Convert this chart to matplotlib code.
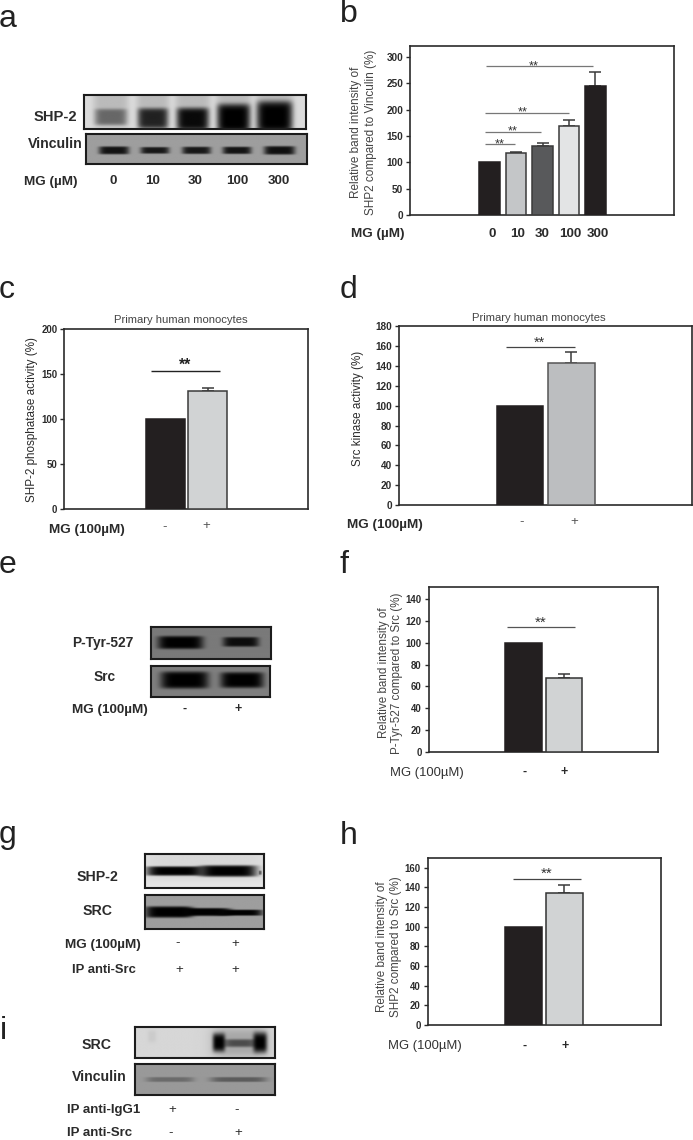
import numpy as np
import matplotlib
matplotlib.use("Agg")
import matplotlib.pyplot as plt

plt.rcParams['font.family'] = ['Liberation Sans', 'DejaVu Sans']

W, H = 693, 1140
DARK = '#231f20'
TXT = '#2b2b2b'
GRY = '#58595b'

# ---- chart values ----
b_cats = ['0', '10', '30', '100', '300']
b_vals = [100, 117, 131, 169, 244]
b_errs = [0, 3.5, 5, 11, 27]
b_cols = [DARK, '#c4c6c8', '#58595b', '#e3e4e5', DARK]

c_vals = [100, 131]
c_errs = [0, 3.3]
d_vals = [100, 143]
d_errs = [0, 11.5]
f_vals = [100, 67.5]
f_errs = [0, 3.5]
h_vals = [100, 134]
h_errs = [0, 8.5]
signs = ['-', '+']

fig = plt.figure(figsize=(W / 100, H / 100), dpi=100, facecolor='white')


def px_axes(l, t, r, b):
    return fig.add_axes([l / W, 1 - b / H, (r - l) / W, (b - t) / H])


def T(x, y, s, size=9.7, weight='bold', ha='center', va='center', color=TXT, rot=0):
    fig.text(x / W, 1 - y / H, s, fontsize=size, fontweight=weight, ha=ha, va=va,
             color=color, rotation=rot, rotation_mode='anchor' if rot else 'default')


def stars(x, y, size=9, weight='normal', color='#333333'):
    T(x, y + size / 0.72 * 0.56, '**', size=size, weight=weight, va='baseline', color=color)


def bar_panel(box, ylim, yticks, vals, errs, cols, c0, step, width, edge, tick_size=6.9):
    l, t, r, b = box
    ax = px_axes(l, t, r, b)
    ax.set_xlim((l - c0) / step, (r - c0) / step)
    ax.set_ylim(*ylim)
    xs = np.arange(len(vals))
    for x, v, e, col in zip(xs, vals, errs, cols):
        ax.bar(x, v, width=width / step, color=col, edgecolor=DARK if col == DARK else edge,
               linewidth=1.1, zorder=3)
        if e:
            ax.errorbar(x, v, yerr=[[0], [e]], color='#3a3a3a', elinewidth=1.1, capsize=4,
                        capthick=1.1, zorder=2)
    ax.set_xticks([])
    ax.set_yticks(yticks)
    ax.tick_params(axis='y', direction='out', length=3, width=1, pad=2, labelsize=tick_size,
                   colors=TXT)
    for lab in ax.get_yticklabels():
        lab.set_fontweight('bold')
    for s in ax.spines.values():
        s.set_linewidth(1.2)
        s.set_color('#2a2a2a')
    ax._c0, ax._step = c0, step
    return ax


def sig(ax, x0, x1, y, color='#444444', lw=0.9):
    ax.plot([(x0 - ax._c0) / ax._step, (x1 - ax._c0) / ax._step], [y, y], color=color, lw=lw,
            zorder=4, solid_capstyle='butt')


def blot(box, bg, bands, power=6):
    l, t, r, b = box
    ax = px_axes(l, t, r, b)
    yy, xx = np.mgrid[0:1:80j, 0:1:300j]
    img = np.full_like(xx, bg, dtype=float)
    for cx, hw, cy, hh, s in bands:
        img *= 1 - s * np.exp(-np.abs((xx - cx) / hw) ** power - np.abs((yy - cy) / hh) ** power)
    ax.imshow(img, cmap='gray', vmin=0, vmax=1, extent=(0, 1, 1, 0), aspect='auto',
              interpolation='bilinear')
    ax.set_xticks([])
    ax.set_yticks([])
    for s in ax.spines.values():
        s.set_linewidth(1.5)
        s.set_color('#1c1c1c')


# ---- panel letters ----
for x, y, s in [(-1, 27, 'a'), (340, 22, 'b'), (-1, 298, 'c'), (340, 298, 'd'), (-1, 573, 'e'),
                (340, 573, 'f'), (-1, 843, 'g'), (340, 844, 'h'), (0, 1039, 'i')]:
    T(x, y, s, size=23, weight='normal', ha='left', va='baseline', color='#222222')

# ---- a ----
blot((84, 94.7, 306, 129), 0.86, [
    (.12, .08, .30, .7, .15), (.31, .075, .30, .7, .15), (.49, .08, .30, .7, .15),
    (.675, .08, .30, .7, .15), (.86, .085, .30, .7, .15),
    (.12, .072, .66, .24, .45), (.31, .068, .70, .30, .82), (.49, .072, .72, .33, .95),
    (.675, .074, .70, .42, 1.0), (.86, .08, .66, .46, 1.0)])
blot((85.7, 134, 307, 164.3), 0.62, [
    (.125, .068, .56, .13, .88), (.31, .065, .56, .11, .85), (.498, .065, .56, .12, .85),
    (.681, .065, .56, .12, .88), (.873, .07, .56, .14, .9)])
T(77, 116.7, 'SHP-2', size=10.6, ha='right')
T(83, 144, 'Vinculin', size=10.2, ha='right')
T(77, 181.5, 'MG (µM)', ha='right')
for x, s in zip([112.7, 152.3, 194.7, 237.7, 279.3], b_cats):
    T(x, 181, s)

# ---- b ----
ax = bar_panel((410, 46, 674, 215), (0, 320.9), [0, 50, 100, 150, 200, 250, 300],
               b_vals, b_errs, b_cols, 489.7, 26.4, 20.5, '#3a3a3a', tick_size=7.2)
sig(ax, 486.3, 593.3, 282, color='#777777')
sig(ax, 485.3, 569, 193, color='#777777')
sig(ax, 485.3, 541, 157.6, color='#777777')
sig(ax, 485.3, 515, 135, color='#777777')
for x, y in [(534, 62), (522.3, 108.7), (512.7, 127.7), (500, 140.3)]:
    stars(x, y, size=9.3)
T(356, 132, 'Relative band intensity of', size=8.5, weight='normal', rot=90, color='#444444')
T(370.7, 132, 'SHP2 compared to Vinculin (%)', size=8.5, weight='normal', rot=90, color='#444444')
T(351, 234, 'MG (µM)', ha='left')
for x, s in zip([491.7, 517.7, 541.7, 570, 597.7], b_cats):
    T(x, 234, s)

# ---- c ----
ax = bar_panel((64.3, 329.3, 308.3, 509), (0, 200), [0, 50, 100, 150, 200],
               c_vals, c_errs, [DARK, '#d1d3d4'], 165.5, 42.3, 39, '#3a3a3a', tick_size=6.9)
sig(ax, 151, 219.7, 153.9, color='#222222', lw=1.0)
stars(185.3, 361.3, size=11.4, weight='bold', color='#222222')
T(181, 320, 'Primary human monocytes', size=8.1, weight='normal', color='#444444')
T(32, 420, 'SHP-2 phosphatase activity (%)', size=8.4, weight='normal', rot=90)
T(49, 529.7, 'MG (100µM)', ha='left')
T(165, 526.7, signs[0], size=9.5, weight='normal', color='#555555')
T(206.7, 526, signs[1], size=9.5, weight='normal', color='#555555')

# ---- d ----
ax = bar_panel((399, 326.3, 691.7, 505), (0, 180), list(range(0, 181, 20)),
               d_vals, d_errs, [DARK, '#bcbec0'], 520, 51.3, 46.5, '#555555', tick_size=7.2)
sig(ax, 506.3, 574.7, 159.5, color='#444444')
stars(539, 338.7, size=10.5)
T(539, 317.7, 'Primary human monocytes', size=8.1, weight='normal', color='#444444')
T(358, 408.7, 'Src kinase activity (%)', size=8.4, weight='normal', rot=90)
T(347.3, 525, 'MG (100µM)', ha='left')
T(521.7, 522, signs[0], size=9.5, weight='normal', color='#555555')
T(574, 522, signs[1], size=9.5, weight='normal', color='#555555')

# ---- e ----
blot((150.7, 626.7, 270.7, 659.3), 0.48, [
    (.245, .19, .5, .2, 1.0), (.75, .15, .48, .15, .9)])
blot((151, 666, 270.3, 697.3), 0.50, [
    (.28, .2, .47, .27, 1.0), (.76, .18, .47, .25, 1.0)])
T(72, 642.7, 'P-Tyr-527', ha='left', size=9.9)
T(105, 677, 'Src', size=9.9)
T(72, 710, 'MG (100µM)', ha='left')
T(184.3, 709, signs[0], size=9)
T(237.7, 709, signs[1], size=9)

# ---- f ----
ax = bar_panel((428.7, 587.3, 658.3, 752.3), (0, 150.4), list(range(0, 141, 20)),
               f_vals, f_errs, [DARK, '#d1d3d4'], 523.7, 40.2, 36.7, '#333333', tick_size=6.9)
sig(ax, 506.7, 575, 114, color='#555555')
stars(540.3, 618.3, size=11)
T(384.3, 673, 'Relative band intensity of', size=8.4, weight='normal', rot=90, color='#444444')
T(397.3, 673, 'P-Tyr-527 compared to Src (%)', size=8.4, weight='normal', rot=90, color='#444444')
T(390, 772.7, 'MG (100µM)', ha='left', weight='normal', size=9.4, color='#333333')
T(524.3, 772, signs[0], size=9)
T(564.3, 772, signs[1], size=9)

# ---- g ----
blot((145.3, 854, 264, 888), 0.90, [
    (.25, .24, .5, .14, 1.0), (.70, .24, .5, .17, 1.0), (.97, .012, .55, .06, .5),
    (.5, .55, .3, .5, .06)])
blot((145.3, 895, 264, 929), 0.62, [
    (.2, .2, .5, .17, 1.0), (.5, .22, .5, .12, 1.0), (.8, .19, .52, .09, 1.0)])
T(97.3, 877, 'SHP-2', size=10.2)
T(97.7, 911.3, 'SRC', size=10.2)
T(65.3, 944.7, 'MG (100µM)', ha='left')
T(178, 943.5, signs[0], size=9.5, weight='normal')
T(235.3, 943.5, signs[1], size=9.5, weight='normal')
T(72, 970.3, 'IP anti-Src', ha='left', size=9.4)
T(179.3, 970.3, signs[1], size=9.5, weight='normal')
T(235.7, 970.3, signs[1], size=9.5, weight='normal')

# ---- h ----
ax = bar_panel((427.7, 857.7, 660.7, 1025), (0, 170.2), list(range(0, 161, 20)),
               h_vals, h_errs, [DARK, '#d1d3d4'], 523.7, 40.7, 37, '#333333', tick_size=6.9)
sig(ax, 513.3, 581.3, 148.5, color='#444444')
stars(547, 869.3, size=10.8)
T(381.7, 946.7, 'Relative band intensity of', size=8.4, weight='normal', rot=90, color='#444444')
T(396, 946.7, 'SHP2 compared to Src (%)', size=8.4, weight='normal', rot=90, color='#444444')
T(388.3, 1046, 'MG (100µM)', ha='left', weight='normal', size=9.4, color='#333333')
T(525, 1046, signs[0], size=9)
T(565, 1046, signs[1], size=9)

# ---- i ----
blot((135, 1027.3, 274.7, 1058), 0.84, [
    (.12, .03, .3, .2, .05), (.75, .2, .5, .5, .22), (.75, .13, .52, .13, .55),
    (.60, .045, .5, .3, 1.0), (.895, .05, .5, .33, 1.0)], power=4)
blot((135, 1063.7, 274.7, 1094.7), 0.60, [
    (.25, .17, .5, .08, .3), (.74, .2, .5, .08, .4)])
T(97, 1045.3, 'SRC', size=10.2)
T(99.3, 1077, 'Vinculin', size=10.2)
T(66.7, 1109.7, 'IP anti-IgG1', ha='left', size=9.5)
T(172, 1109.7, signs[1], size=9.5, weight='normal')
T(236.7, 1110, signs[0], size=9.5, weight='normal')
T(66.7, 1133, 'IP anti-Src', ha='left', size=9.5)
T(171, 1133, signs[0], size=9.5, weight='normal')
T(238, 1133, signs[1], size=9.5, weight='normal')

fig.savefig('out.png', dpi=100, facecolor='white')
